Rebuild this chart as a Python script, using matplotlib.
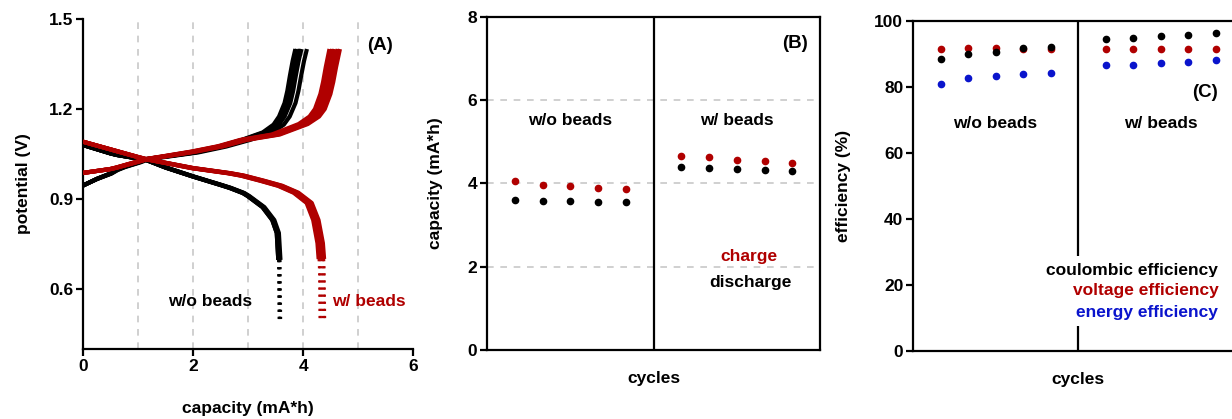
"""Charge/discharge curves, cycle capacities and efficiencies, with and without beads."""

import matplotlib

matplotlib.use("Agg")

import matplotlib.pyplot as plt

RED = "#b00000"
BLUE = "#0a14cc"
GRID = "#c8c8c8"

# cycle capacities (mA*h), five cycles per cell
charge_wo = [4.07, 3.97, 3.94, 3.89, 3.86]
discharge_wo = [3.60, 3.58, 3.58, 3.56, 3.56]
charge_w = [4.67, 4.63, 4.57, 4.53, 4.48]
discharge_w = [4.40, 4.38, 4.35, 4.32, 4.30]

# efficiencies (%)
coulombic_wo = [88.4, 90.1, 90.7, 91.8, 92.2]
voltage_wo = [91.4, 91.9, 91.8, 91.6, 91.5]
energy_wo = [80.8, 82.8, 83.2, 84.0, 84.3]
coulombic_w = [94.4, 94.8, 95.5, 95.7, 96.3]
voltage_w = [91.4, 91.4, 91.4, 91.4, 91.4]
energy_w = [86.5, 86.7, 87.3, 87.5, 88.0]

cycles_wo = [1, 2, 3, 4, 5]
cycles_w = [7, 8, 9, 10, 11]

# potential profiles vs. fraction of the cycle's capacity
chg_wo_frac = [0, 0.064, 0.128, 0.156, 0.19, 0.256, 0.295, 0.385, 0.513, 0.64,
               0.746, 0.846, 0.897, 0.923, 0.949, 0.962, 0.974, 0.987, 1.0]
chg_wo_v = [0.945, 0.967, 0.985, 0.997, 1.007, 1.022, 1.033, 1.042, 1.055, 1.075,
            1.097, 1.122, 1.148, 1.175, 1.22, 1.26, 1.31, 1.36, 1.40]
chg_w_frac = [0, 0.109, 0.134, 0.219, 0.252, 0.328, 0.438, 0.547, 0.637, 0.766,
              0.875, 0.919, 0.941, 0.963, 0.974, 0.985, 1.0]
chg_w_v = [0.987, 1.0, 1.005, 1.025, 1.033, 1.043, 1.058, 1.076, 1.097, 1.115,
           1.15, 1.175, 1.20, 1.25, 1.29, 1.34, 1.40]
dis_wo_frac = [0, 0.14, 0.171, 0.28, 0.322, 0.42, 0.56, 0.70, 0.748, 0.815, 0.84,
               0.916, 0.966, 0.989, 0.997, 1.0]
dis_wo_v = [1.08, 1.052, 1.047, 1.035, 1.03, 1.005, 0.975, 0.947, 0.937, 0.92, 0.91,
            0.873, 0.83, 0.787, 0.697, 0.50]
dis_w_frac = [0, 0.229, 0.263, 0.458, 0.611, 0.666, 0.748, 0.824, 0.89, 0.945,
              0.973, 0.991, 0.996, 0.998, 1.0]
dis_w_v = [1.091, 1.04, 1.033, 1.003, 0.986, 0.978, 0.961, 0.944, 0.921, 0.887,
           0.83, 0.753, 0.70, 0.663, 0.50]

plt.rcParams["font.family"] = ["Liberation Sans", "DejaVu Sans"]
plt.rcParams["font.weight"] = "bold"
plt.rcParams["font.size"] = 12.5
plt.rcParams["axes.linewidth"] = 1.6

fig = plt.figure(figsize=(12.32, 4.19), dpi=100)
ax_a = fig.add_axes([0.0674, 0.167, 0.2679, 0.7876])
ax_b = fig.add_axes([0.3953, 0.1647, 0.2703, 0.795])
ax_c = fig.add_axes([0.7411, 0.1623, 0.2679, 0.788])


def style_ticks(ax):
    ax.tick_params(direction="out", length=5, width=1.6, labelsize=12.5, pad=2)
    for lab in ax.get_xticklabels() + ax.get_yticklabels():
        lab.set_fontweight("bold")


def draw_profile(ax, frac, volts, capacities, color, tail_below=0.68):
    # sparse low-voltage tail is drawn dotted
    split = next((i for i, v in enumerate(volts) if v < tail_below), len(volts))
    for cap in capacities:
        q = [f * cap for f in frac]
        ax.plot(q[:split], volts[:split], color=color, lw=3.0,
                solid_capstyle="butt", solid_joinstyle="round", zorder=3)
        if split < len(volts):
            ax.plot(q[split - 1:], volts[split - 1:], color=color, lw=1.6,
                    ls=(0, (1.0, 2.2)), zorder=3)


# (A) potential profiles
for x in [1, 2, 3, 4, 5]:
    ax_a.axvline(x, color=GRID, lw=1.2, ls=(0, (4, 4)), zorder=1)
draw_profile(ax_a, chg_wo_frac, chg_wo_v, charge_wo, "black")
draw_profile(ax_a, dis_wo_frac, dis_wo_v, discharge_wo, "black")
draw_profile(ax_a, chg_w_frac, chg_w_v, charge_w, RED)
draw_profile(ax_a, dis_w_frac, dis_w_v, discharge_w, RED)
ax_a.set_xlim(0, 6)
ax_a.set_ylim(0.4, 1.5)
ax_a.set_xticks([0, 2, 4, 6])
ax_a.set_yticks([0.6, 0.9, 1.2, 1.5])
ax_a.spines["top"].set_visible(False)
ax_a.spines["right"].set_visible(False)
style_ticks(ax_a)
ax_a.set_xlabel("capacity (mA*h)", fontweight="bold")
ax_a.set_ylabel("potential (V)", fontweight="bold")
ax_a.xaxis.set_label_coords(0.5, -0.158)
ax_a.yaxis.set_label_coords(-0.158, 0.5)
ax_a.text(0.94, 0.92, "(A)", transform=ax_a.transAxes, ha="right", va="center",
          fontsize=13.5, fontweight="bold")
ax_a.text(0.385, 0.145, "w/o beads", transform=ax_a.transAxes, ha="center",
          va="center", fontweight="bold")
ax_a.text(0.755, 0.145, "w/ beads", transform=ax_a.transAxes, ha="left",
          va="center", color=RED, fontweight="bold")

# (B) cycle capacities
for y in [2, 4, 6]:
    ax_b.axhline(y, color=GRID, lw=1.2, ls=(0, (4, 4)), zorder=1)
ax_b.axvline(6, color="black", lw=1.6, zorder=2)
ax_b.plot(cycles_wo, charge_wo, "o", color=RED, ms=4.5, zorder=3)
ax_b.plot(cycles_wo, discharge_wo, "o", color="black", ms=4.5, zorder=3)
ax_b.plot(cycles_w, charge_w, "o", color=RED, ms=4.5, zorder=3)
ax_b.plot(cycles_w, discharge_w, "o", color="black", ms=4.5, zorder=3)
ax_b.set_xlim(0, 12)
ax_b.set_ylim(0, 8)
ax_b.set_xticks([])
ax_b.set_yticks([0, 2, 4, 6, 8])
style_ticks(ax_b)
ax_b.set_xlabel("cycles", fontweight="bold")
ax_b.set_ylabel("capacity (mA*h)", fontweight="bold")
ax_b.xaxis.set_label_coords(0.5, -0.063)
ax_b.yaxis.set_label_coords(-0.132, 0.5)
ax_b.text(0.965, 0.92, "(B)", transform=ax_b.transAxes, ha="right", va="center",
          fontsize=13.5, fontweight="bold")
ax_b.text(3, 5.52, "w/o beads", ha="center", va="center", fontweight="bold")
ax_b.text(9, 5.52, "w/ beads", ha="center", va="center", fontweight="bold")
ax_b.text(9.45, 2.25, "charge", ha="center", va="center", color=RED, fontweight="bold")
ax_b.text(9.5, 1.63, "discharge", ha="center", va="center", fontweight="bold")

# (C) efficiencies
ax_c.axvline(6, color="black", lw=1.6, zorder=2)
for xs, ys, col in [(cycles_wo, voltage_wo, RED), (cycles_wo, coulombic_wo, "black"),
                    (cycles_wo, energy_wo, BLUE), (cycles_w, voltage_w, RED),
                    (cycles_w, coulombic_w, "black"), (cycles_w, energy_w, BLUE)]:
    ax_c.plot(xs, ys, "o", color=col, ms=4.5, zorder=3)
ax_c.set_xlim(0, 12)
ax_c.set_ylim(0, 100)
ax_c.set_xticks([])
ax_c.set_yticks([0, 20, 40, 60, 80, 100])
style_ticks(ax_c)
ax_c.set_xlabel("cycles", fontweight="bold")
ax_c.set_ylabel("efficiency (%)", fontweight="bold")
ax_c.xaxis.set_label_coords(0.5, -0.064)
ax_c.yaxis.set_label_coords(-0.188, 0.5)
ax_c.text(11.1, 78.4, "(C)", ha="right", va="center", fontsize=13.5, fontweight="bold")
ax_c.text(3, 69, "w/o beads", ha="center", va="center", fontweight="bold")
ax_c.text(9, 69, "w/ beads", ha="center", va="center", fontweight="bold")
legend_rows = [("coulombic efficiency", "black", 24.5),
               ("voltage efficiency", RED, 18.2),
               ("energy efficiency", BLUE, 11.8)]
for label, col, y in legend_rows:
    ax_c.text(11.1, y, label, ha="right", va="center", color=col, fontweight="bold",
              zorder=4, bbox=dict(facecolor="white", edgecolor="none", pad=4.5))

fig.savefig("out.png", dpi=100)
plt.close(fig)
